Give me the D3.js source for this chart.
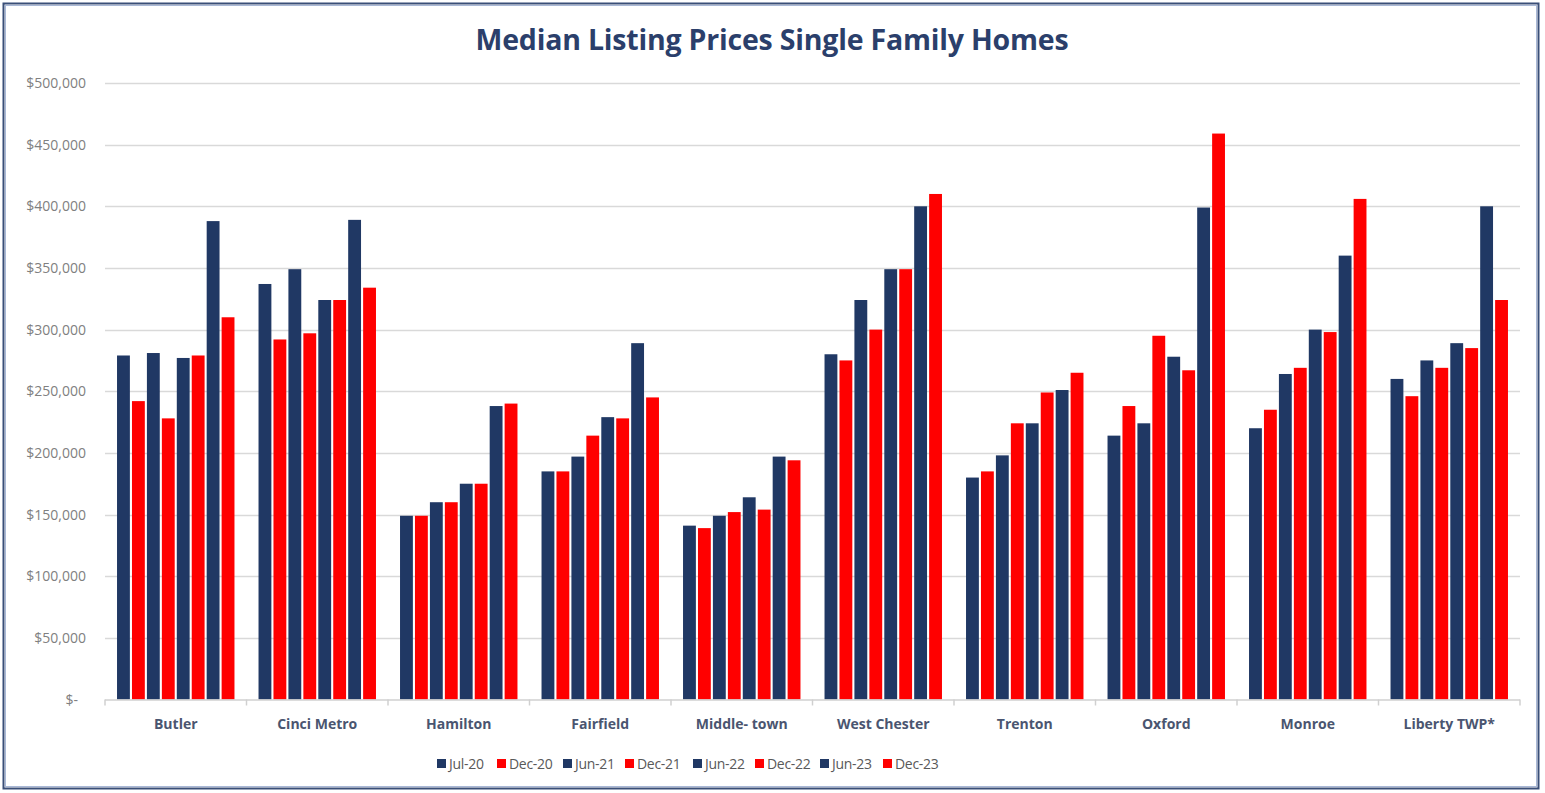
<!DOCTYPE html>
<html>
<head>
<meta charset="utf-8">
<script src="https://cdn.jsdelivr.net/npm/d3@7"></script>
<style>
  html, body { margin: 0; padding: 0; background: #fff; }
  svg { display: block; }
</style>
</head>
<body>
<svg id="chart" width="1545" height="793"></svg>
<script>
const categories = ["Butler", "Cinci Metro", "Hamilton", "Fairfield", "Middle- town", "West Chester", "Trenton", "Oxford", "Monroe", "Liberty TWP*"];
const seriesNames = ["Jul-20", "Dec-20", "Jun-21", "Dec-21", "Jun-22", "Dec-22", "Jun-23", "Dec-23"];
const jul20 = [279000, 337000, 149000, 185000, 141000, 280000, 180000, 214000, 220000, 260000];
const dec20 = [242000, 292000, 149000, 185000, 139000, 275000, 185000, 238000, 235000, 246000];
const jun21 = [281000, 349000, 160000, 197000, 149000, 324000, 198000, 224000, 264000, 275000];
const dec21 = [228000, 297000, 160000, 214000, 152000, 300000, 224000, 295000, 269000, 269000];
const jun22 = [277000, 324000, 175000, 229000, 164000, 349000, 224000, 278000, 300000, 289000];
const dec22 = [279000, 324000, 175000, 228000, 154000, 349000, 249000, 267000, 298000, 285000];
const jun23 = [388000, 389000, 238000, 289000, 197000, 400000, 251000, 399000, 360000, 400000];
const dec23 = [310000, 334000, 240000, 245000, 194000, 410000, 265000, 459000, 406000, 324000];
const yTicks = [0, 50000, 100000, 150000, 200000, 250000, 300000, 350000, 400000, 450000, 500000];

const seriesValues = [jul20, dec20, jun21, dec21, jun22, dec22, jun23, dec23];
const colors = ["#203864", "#ff0000", "#203864", "#ff0000", "#203864", "#ff0000", "#203864", "#ff0000"];

const svg = d3.select("#chart");

// outer border
svg.append("rect")
  .attr("x", 3.5).attr("y", 3.5).attr("width", 1535).attr("height", 785)
  .attr("fill", "#fff").attr("stroke", "#3a4f78").attr("stroke-width", 2);
svg.append("rect")
  .attr("x", 5.5).attr("y", 5.5).attr("width", 1531).attr("height", 781)
  .attr("fill", "none").attr("stroke", "#a9b8d6").attr("stroke-width", 1);

const plotLeft = 105, plotRight = 1520, plotTop = 83, plotBottom = 699.5;

const x0 = d3.scaleBand().domain(categories).range([plotLeft, plotRight]).paddingInner(0.17).paddingOuter(0.085);
const x1 = d3.scaleBand().domain(seriesNames).range([0, x0.bandwidth()]).paddingInner(0.14);
const y = d3.scaleLinear().domain([0, 500000]).range([plotBottom, plotTop]);

// title
svg.append("text")
  .attr("x", 772).attr("y", 50)
  .attr("text-anchor", "middle")
  .attr("font-family", "'Open Sans', 'Liberation Sans', sans-serif")
  .attr("font-weight", "bold")
  .attr("font-size", 28.5)
  .attr("fill", "#2b3f6b")
  .attr("letter-spacing", "-0.2")
  .text("Median Listing Prices Single Family Homes");

// gridlines
svg.append("g")
  .selectAll("line")
  .data(yTicks.filter(d => d > 0))
  .join("line")
  .attr("x1", plotLeft).attr("x2", plotRight)
  .attr("y1", d => Math.round(y(d)) + 0.5).attr("y2", d => Math.round(y(d)) + 0.5)
  .attr("stroke", "#d9d9d9").attr("stroke-width", 1.5);

// y labels
const fmt = d => d === 0 ? "$-" : "$" + d3.format(",")(d);
svg.append("g")
  .selectAll("text")
  .data(yTicks)
  .join("text")
  .attr("x", d => d === 0 ? 78 : 86)
  .attr("y", d => y(d) + 5)
  .attr("text-anchor", "end")
  .attr("font-family", "'Open Sans', 'Liberation Sans', sans-serif")
  .attr("font-size", 14)
  .attr("fill", "#808080")
  .text(fmt);

// bars
const groups = svg.append("g")
  .selectAll("g")
  .data(categories)
  .join("g")
  .attr("transform", d => `translate(${x0(d)},0)`);

groups.selectAll("rect")
  .data((c, i) => seriesNames.map((s, j) => ({ s, j, v: seriesValues[j][i] })))
  .join("rect")
  .attr("x", d => x1(d.s))
  .attr("width", x1.bandwidth())
  .attr("y", d => y(d.v))
  .attr("height", d => plotBottom - y(d.v))
  .attr("fill", d => colors[d.j]);

// x axis line and ticks
const axis = svg.append("g");
axis.append("line")
  .attr("x1", plotLeft).attr("x2", plotRight)
  .attr("y1", plotBottom + 0.5).attr("y2", plotBottom + 0.5)
  .attr("stroke", "#d0d0d0").attr("stroke-width", 1.5);
const boundaries = d3.range(categories.length + 1).map(i => plotLeft + i * (plotRight - plotLeft) / categories.length);
axis.selectAll("line.tick")
  .data(boundaries)
  .join("line")
  .attr("class", "tick")
  .attr("x1", d => d).attr("x2", d => d)
  .attr("y1", plotBottom).attr("y2", plotBottom + 6)
  .attr("stroke", "#d0d0d0").attr("stroke-width", 1.5);

axis.selectAll("text")
  .data(categories)
  .join("text")
  .attr("x", d => x0(d) + x0.bandwidth() / 2)
  .attr("y", 729)
  .attr("text-anchor", "middle")
  .attr("font-family", "'Open Sans', 'Liberation Sans', sans-serif")
  .attr("font-weight", "bold")
  .attr("font-size", 14)
  .attr("fill", "#4a5570")
  .text(d => d);

// legend
const legendX = [437, 497, 563, 625, 693, 755, 820, 883];
const legend = svg.append("g")
  .selectAll("g")
  .data(seriesNames)
  .join("g")
  .attr("transform", (d, i) => `translate(${legendX[i]},759)`);
legend.append("rect")
  .attr("width", 9).attr("height", 9).attr("y", 0)
  .attr("fill", (d, i) => colors[i]);
legend.append("text")
  .attr("x", 12).attr("y", 9.5)
  .attr("font-family", "'Open Sans', 'Liberation Sans', sans-serif")
  .attr("font-size", 14)
  .attr("fill", "#595959")
  .attr("letter-spacing", "-0.3")
  .text(d => d);
</script>
</body>
</html>
